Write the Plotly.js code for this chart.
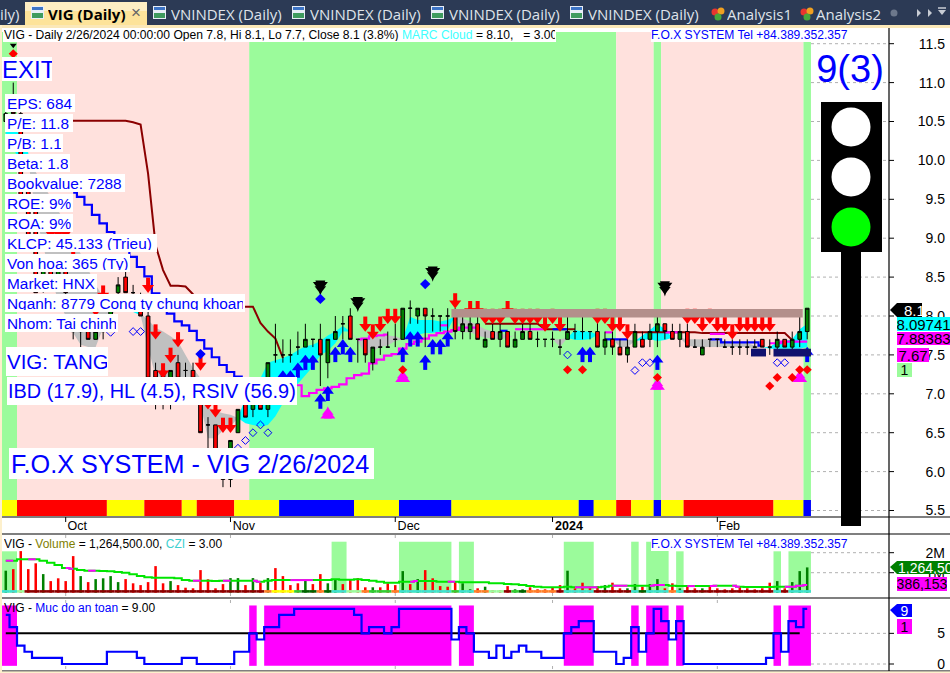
<!DOCTYPE html>
<html><head><meta charset="utf-8">
<script src="https://cdn.plot.ly/plotly-3.0.1.min.js"></script>
<style>html,body{margin:0;padding:0;background:#fff;overflow:hidden}#c{width:950px;height:673px}</style>
</head><body><div id="c"></div>
<script>
// ---------- data ----------
const monthBars=[8,30,52,73,95];
const monthLabels=["Oct","Nov","Dec","<b>2024</b>","Feb"];
const opens=[10.5,10.8,10.6,9.6,9.4,8.4,8.6,8.5,8.6,7.8,7.8,7.8,7.7,7.8,7.8,8.3,8.5,8.3,8.2,8.0,
 7.3,7.3,7.2,7.4,7.3,7.3,7.2,6.6,6.6,6.2,5.9,6.5,7.0,6.8,6.9,6.8,7.5,7.5,7.5,7.6,
 7.6,7.7,7.7,7.4,7.7,7.9,8.0,7.7,7.7,7.4,7.6,7.6,7.7,7.7,8.1,8.0,8.1,8.0,8.0,8.0,
 8.0,7.8,7.8,7.9,7.6,7.8,7.7,7.8,7.6,7.7,7.8,7.7,7.7,7.7,7.6,7.7,7.8,7.8,7.8,7.8,
 7.6,7.7,7.6,7.5,7.6,7.7,7.7,7.8,7.9,7.8,7.7,7.8,7.6,7.5,7.7,7.7,7.6,7.6,7.6,7.6,
 7.6,7.7,7.6,7.6,7.7,7.6,7.7,7.8];
const highs=[10.8,11.0,10.7,9.7,9.5,8.7,8.7,8.7,8.7,7.9,7.9,7.9,7.9,7.9,8.2,8.5,8.6,8.4,8.3,8.1,
 7.4,7.3,7.3,7.5,7.4,7.4,7.2,6.7,6.6,6.3,6.4,6.8,7.0,6.9,7.0,7.4,7.9,7.7,7.7,7.8,
 7.9,7.7,7.9,7.7,8.0,8.0,8.1,7.7,7.7,7.6,7.7,7.8,7.9,8.1,8.2,8.1,8.1,8.1,8.0,8.1,
 8.1,8.0,8.0,8.0,7.8,7.9,7.9,7.8,7.8,7.9,7.9,7.8,7.7,7.8,7.7,8.0,7.9,8.0,7.8,8.0,
 7.8,7.8,7.7,7.7,7.9,7.8,7.9,8.0,7.9,7.9,7.9,7.9,7.7,7.7,7.7,7.7,7.7,7.7,7.7,7.7,
 7.7,7.7,7.7,7.8,7.7,7.8,8.0,8.1];
const lows=[10.5,10.6,9.5,8.9,8.3,8.3,8.4,8.4,8.2,7.7,7.6,7.7,7.7,7.7,7.8,8.2,8.3,8.2,8.0,7.2,
 6.8,6.8,6.8,7.2,7.2,7.2,6.5,6.3,6.2,5.8,5.8,6.5,6.7,6.7,6.8,6.7,7.4,7.4,7.4,7.5,
 7.6,7.6,7.1,7.2,7.7,7.7,7.7,7.4,7.4,7.3,7.5,7.6,7.6,7.7,7.9,7.9,7.6,7.8,7.8,7.8,
 7.7,7.7,7.7,7.7,7.6,7.7,7.6,7.6,7.6,7.7,7.7,7.6,7.6,7.6,7.5,7.7,7.7,7.7,7.7,7.6,
 7.5,7.5,7.5,7.4,7.6,7.6,7.6,7.6,7.7,7.7,7.6,7.6,7.6,7.5,7.6,7.6,7.6,7.5,7.5,7.5,
 7.6,7.6,7.5,7.5,7.6,7.5,7.6,7.7];
const closes=[10.6,10.6,9.5,8.9,8.3,8.6,8.5,8.6,8.3,7.8,7.8,7.7,7.8,7.8,8.2,8.4,8.3,8.3,8.0,7.2,
 7.2,7.2,7.3,7.2,7.3,7.2,6.5,6.6,6.2,5.9,6.4,6.8,6.7,6.9,6.8,7.4,7.5,7.5,7.5,7.6,
 7.7,7.7,7.5,7.7,7.8,7.9,7.7,7.7,7.5,7.6,7.6,7.6,7.7,8.1,8.1,8.1,8.0,8.0,8.0,8.0,
 7.8,7.9,7.9,7.7,7.7,7.7,7.8,7.6,7.7,7.8,7.7,7.7,7.7,7.7,7.6,7.8,7.8,7.8,7.8,7.6,
 7.7,7.6,7.5,7.6,7.8,7.6,7.8,7.9,7.8,7.7,7.8,7.6,7.6,7.6,7.7,7.7,7.6,7.6,7.6,7.6,
 7.6,7.6,7.6,7.7,7.6,7.7,7.8,8.1];

const N=null;
const cloudTop=[10.45,10.45,10.30,10.10,9.85,9.68,9.53,9.36,9.17,8.98,8.80,8.60,8.40,8.25,8.15,8.10,8.25,8.10,8.03,7.95,
 7.85,7.80,7.74,7.67,7.50,7.33,7.20,6.83,6.78,6.75,6.73,6.69,6.95,7.10,7.20,7.40,7.43,7.46,7.50,7.56,
 7.61,7.63,7.68,7.75,7.80,7.87,7.80,7.70,7.69,7.72,7.72,7.75,7.74,7.70,7.99,7.95,7.95,7.95,7.93,7.95,
 8.00,7.97,7.93,7.88,7.83,7.80,7.79,7.74,7.75,N,N,N,N,7.70,7.70,7.72,7.82,7.80,7.80,7.76,
 N,7.70,7.70,7.70,7.68,7.75,7.82,7.90,7.83,7.72,7.72,7.70,7.70,7.70,7.70,7.68,7.68,7.66,7.66,7.65,
 7.62,7.60,7.60,7.67,7.68,7.70,7.83,7.90];
const cloudBot=[10.20,10.15,9.98,10.00,9.30,8.90,8.50,8.20,8.00,7.78,7.63,7.60,7.60,7.85,8.00,8.10,8.08,8.05,8.01,7.60,
 7.22,7.22,7.18,7.14,7.10,6.98,6.86,6.43,6.43,6.53,6.58,6.69,6.62,6.60,6.58,6.60,6.71,6.88,7.00,7.13,
 7.24,7.35,7.50,7.55,7.65,7.80,7.80,7.68,7.50,7.55,7.60,7.62,7.68,7.70,7.73,7.76,7.78,7.78,7.80,7.82,
 8.00,7.79,7.79,7.75,7.72,7.71,7.70,7.72,7.75,N,N,N,N,7.70,7.60,7.72,7.69,7.69,7.70,7.76,
 N,7.70,7.60,7.60,7.68,7.69,7.70,7.68,7.69,7.72,7.72,7.62,7.60,7.60,7.60,7.60,7.60,7.60,7.60,7.60,
 7.58,7.60,7.58,7.58,7.58,7.58,7.58,7.60];
const cloudCyanSpans=[[0,3],[15,18],[31,46],[53,60],[75,79],[84,89],[101,107]];
const cloudGraySpans=[[3,15],[18,31],[46,53],[60,68],[73,75],[81,84],[90,101]];

const blueStop=[N,N,N,N,N,N,N,N,N,9.585,9.53,9.43,9.30,9.19,9.08,8.98,8.88,8.76,8.63,8.51,
 8.29,8.12,8.03,7.93,7.88,7.81,7.69,7.58,7.47,7.37,7.28,7.22,7.15,N,N,N,N,N,N,N,
 N,N,N,N,N,N,N,N,N,N,N,N,N,N,N,N,N,N,N,N,
 N,N,N,N,N,N,7.81,7.81,N,N,N,N,N,7.83,7.83,7.83,N,N,N,N,
 7.70,7.70,7.70,7.70,N,N,N,N,N,N,N,N,N,N,7.70,7.70,7.66,7.66,7.66,7.66,
 7.66,7.62,N,N,N,N,N,N];
const darkRedLine=[N,N,10.51,10.51,10.51,10.51,10.51,10.51,10.51,10.51,10.51,10.51,10.51,10.51,10.51,10.51,10.51,10.49,10.46,9.83,
 8.91,8.59,8.39,8.39,8.38,8.28,8.20,8.15,8.12,8.12,8.12,8.12,8.12,8.12,7.91,7.80,7.71,7.46,N,N,
 N,N,N,N,N,N,N,N,N,N,N,N,N,N,N,N,N,N,N,N,
 N,N,N,N,7.90,7.90,7.90,7.90,7.90,7.90,7.90,7.90,7.83,7.83,7.83,7.83,7.83,N,N,N,
 N,N,N,7.79,7.79,7.79,7.79,7.79,7.79,7.79,7.79,7.79,7.79,7.78,7.78,7.78,7.78,7.78,7.78,7.78,
 7.78,7.78,7.78,7.78,7.78,7.69,N,N];
const magentaRise=[N,N,N,N,N,N,N,N,N,N,N,N,N,N,N,N,N,N,N,N,
 N,N,N,N,N,N,N,N,N,N,N,N,N,N,N,N,N,N,7.11,7.11,
 6.97,7.01,7.05,7.07,7.09,7.12,7.20,7.24,7.26,7.39,7.44,7.49,7.51,7.58,7.64,7.67,7.71,7.75,7.78,7.80,
 7.82,7.85,7.85,7.85,N,N,N,N,N,N,N,N,N,N,N,N,N,N,N,N,
 N,N,N,N,N,N,N,N,N,N,N,N,N,N,N,N,N,N,N,N,
 N,N,N,N,N,N,N,N];
const magentaUpper=[N,N,N,N,N,N,N,N,N,N,N,N,N,N,N,N,N,N,N,N,
 N,N,N,N,N,N,N,N,N,N,N,N,N,N,N,N,N,N,N,N,
 N,N,N,N,N,N,N,7.70,7.71,7.74,7.75,7.76,N,N,N,N,N,N,7.88,7.88,
 N,N,N,N,N,N,N,N,7.83,7.83,7.83,7.83,7.83,N,N,N,N,N,N,N,
 7.79,7.79,N,N,N,N,N,N,7.79,7.79,7.79,N,N,N,7.77,7.77,7.77,N,N,N,
 N,N,7.65,7.65,7.67,7.67,7.67,7.67];

const regimeEdges=[0,2,14,19,24,26,31,37,47,53,60,77,79,82,84,87,88,91,103,107,108];
const regimeColors=["#ffff00","#ff0000","#ffff00","#ff0000","#ffff00","#ff0000","#ffff00","#0000ff","#ffff00","#0000ff","#ffff00","#0000ff","#ffff00","#ff0000","#ffff00","#0000ff","#ffff00","#ff0000","#ffff00","#0000ff"];
const trendEdges=[0,2,33,82,87,88,107,108];
const trendColors=["#9bfb9b","#ffe1dd","#9bfb9b","#ffe1dd","#9bfb9b","#ffe1dd","#9bfb9b"];

const blackTriBars=[42,47,57,88], blackTriTips=[8.26,8.05,8.44,8.25];
const magTriBars=[43,53,87,106], magTriTips=[6.84,7.31,7.21,7.31];
const blueDotBars=[26,42,56], blueDotVals=[7.51,8.22,8.41];
const redDotBars=[1,53,75,77,87,102,103,105,106,107], redDotVals=[11.37,7.31,7.31,7.31,7.21,7.10,7.21,7.21,7.31,7.31];
const hollowBars=[14,17,18,31,32,33,34,35,75,84,85,86,103,104];
const hollowVals=[7.79,7.80,7.80,6.30,6.40,6.50,6.60,6.50,7.50,7.30,7.40,7.40,7.40,7.40];
const buyBars=[37,38,39,40,41,42,43,44,45,46,53,54,55,56,57,58,59,77,78,87,107];
const buyTips=[7.3,7.3,7.4,7.5,7.5,7.0,7.1,7.6,7.7,7.6,7.6,7.8,7.8,7.5,7.7,7.7,7.8,7.6,7.6,7.5,7.6];
const sellBars=[6,7,8,9,12,13,19,20,21,22,23,26,27,28,29,30,48,49,50,51,52,60,62,63,64,65,66,67,68,69,70,71,72,73,74,79,80,81,82,83,91,92,93,94,95,96,97,98,99,100,101,102];
const sellTips=[9.0,9.0,9.0,8.7,8.0,8.2,8.3,7.7,7.2,7.4,7.6,7.3,6.8,6.7,6.5,6.5,7.8,7.7,7.8,7.9,7.9,8.1,8.0,8.0,7.9,7.9,7.9,8.0,7.9,7.9,7.9,7.9,7.8,7.9,7.8,7.9,7.9,7.8,7.8,7.7,7.9,7.9,7.8,7.9,7.8,7.8,7.7,7.8,7.8,7.8,7.8,7.8];
const resistFrom=60,resistTo=106,resistHigh=8.09,resistLow=7.98;
const navyBars=[100,101,103,104,105,106,107], navyHigh=7.58, navyLow=7.48;

const volumes=[1.10,1.18,2.08,1.18,1.47,0.93,0.58,0.72,0.58,1.83,0.83,0.53,0.68,0.72,0.83,0.53,0.68,0.47,0.38,0.53,
 1.33,0.47,0.58,0.38,0.25,0.22,1.13,0.67,0.22,0.43,0.73,0.73,0.38,0.73,0.50,0.73,1.23,0.83,0.38,0.47,
 0.67,0.43,0.93,0.47,0.67,0.43,0.67,0.73,0.27,0.27,0.27,0.47,0.38,1.08,0.43,0.68,1.13,0.72,0.33,0.30,
 0.55,0.47,0.17,0.22,0.30,0.13,0.13,0.33,0.17,0.17,0.27,0.17,0.17,0.27,0.38,1.10,0.22,0.50,0.30,0.33,
 0.38,0.50,0.22,0.22,0.43,0.30,0.43,0.68,0.22,0.47,0.22,0.38,0.22,0.22,0.38,0.22,0.17,0.22,0.30,0.22,
 0.17,0.22,0.50,0.58,0.22,0.53,1.08,1.2645];
const volGreenBars=[0,5,10,12,13,14,15,22,30,31,33,35,40,43,44,49,53,55,61,62,64,68,69,75,80,83,84,86,87,90,93,103,105,106,107];
const volAvg=[1.60,1.60,1.67,1.67,1.67,1.60,1.50,1.38,1.23,1.20,1.13,1.10,1.10,1.08,1.07,1.03,1.00,0.92,0.83,0.77,
 0.75,0.75,0.75,0.72,0.63,0.60,0.60,0.60,0.58,0.60,0.60,0.60,0.60,0.60,0.55,0.60,0.63,0.63,0.63,0.63,
 0.63,0.63,0.63,0.63,0.67,0.65,0.65,0.67,0.63,0.60,0.55,0.50,0.50,0.55,0.55,0.58,0.58,0.58,0.55,0.55,
 0.55,0.52,0.52,0.52,0.52,0.47,0.47,0.43,0.42,0.38,0.33,0.30,0.27,0.27,0.27,0.30,0.27,0.27,0.27,0.27,
 0.30,0.35,0.35,0.35,0.35,0.35,0.35,0.38,0.38,0.35,0.33,0.33,0.33,0.33,0.33,0.35,0.35,0.35,0.30,0.28,
 0.28,0.28,0.28,0.30,0.30,0.30,0.35,0.386];
const volAvgMagentaSpans=[[0,1],[3,4],[8,9],[11,12],[25,26],[29,30],[33,34],[38,39],[40,41],[54,55],[59,60],[76,79],[81,83],[86,88],[91,92],[94,95],[97,98],[104,107]];
const volBandSpans=[[0,2],[44,46],[53,60],[61,63],[75,79],[84,85],[86,89],[90,91],[103,104],[105,108]];
const volBandTops=[2.07,2.55,2.55,2.55,2.55,2.55,2.55,2.07,2.07,2.07];
const czEdges=[0,2,3,35,36,39,40,42,43,44,46,48,49,52,53,60,61,63,65,67,68,69,70,74,75,79,84,85,86,89,90,91,103,104,105,108];
const czColors=["#40e0d0","#9bfb9b","#8b0000","#ff7f27","#ffff00","#32cd32","#006400","#ff7f27","#006400","#40e0d0","#9bfb9b","#ff7f27","#32cd32","#ff7f27","#40e0d0","#32cd32","#40e0d0","#ff7f27","#9bfb9b","#8b0000","#32cd32","#006400","#ff7f27","#8b0000","#40e0d0","#8b0000","#40e0d0","#006400","#40e0d0","#ff7f27","#40e0d0","#8b0000","#40e0d0","#8b0000","#40e0d0"];

const safety=[8,6,3,2,1,1,1,1,0,0,0,0,0,0,2,2,2,2,1,0,
 0,0,0,0,1,1,0,0,0,0,0,2,2,5,4,6,6,8,8,9,
 9,9,9,9,9,9,9,8,5,6,6,5,6,9,9,9,9,9,9,9,
 4,6,5,2,2,1,3,1,2,3,2,2,1,1,1,5,6,7,7,2,
 2,2,0,1,6,2,5,9,7,4,7,0,0,0,0,0,0,0,0,0,
 0,0,1,5,2,7,6,9];
const safeBandSpans=[[0,2],[33,34],[35,60],[61,63],[75,79],[84,85],[86,89],[90,91],[103,104],[105,108]];
const safeLevel=5;

const priceTicks=[5.5,6,6.5,7,7.5,8,8.5,9,9.5,10,10.5,11,11.5];
const priceLabels=["5.5","6.0","6.5","7.0","7.5","8.0","8.5","9.0","9.5","10.0","10.5","11.0","11.5"];
const volTicks=[1,2], volLabels=["1M","2M"];
const safeTicks=[0,5], safeLabels=["0","5"];

const statLines=["EPS: 684","P/E: 11.8","P/B: 1.1","Beta: 1.8","Bookvalue: 7288","ROE: 9%","ROA: 9%","KLCP: 45.133 (Trieu)","Von hoa: 365 (Ty)","Market: HNX","Nganh: 8779 Cong ty chung khoan","Nhom: Tai chinh"];
const statRight=[75,73,63,70,125,73,73,157,130,97,245,118];
const tabTitles=["VNINDEX (Daily)","VNINDEX (Daily)","VNINDEX (Daily)","VNINDEX (Daily)"];

// ---------- geometry ----------
const W=950,H=673,F="Liberation Sans, Arial, sans-serif",F2="Open Sans, Noto Sans, sans-serif";
const STEP=7.49,C0=5.77,PLOTR=948;
const barIdx=px=>(px-C0)/STEP;
const yp=p=>1-p/H, xp=p=>p/W;
const edge=i=>i-0.5;
const all=Array.from({length:108},(_,i)=>i);
const priceAt=p=>8+(316-p)/77.8;
const priceRange=[priceAt(533),priceAt(27)];
const volRange=[(592.7-598)/20,(592.7-535)/20];
const safeRange=[(664-673)/6.13,(664-599)/6.13];
const dom=(a,b)=>[yp(b),yp(a)];

// ---------- shapes ----------
const shapes=[];
const rectP=(x0,y0,x1,y1,c,layer)=>shapes.push({type:"rect",xref:"paper",yref:"paper",x0:xp(x0),x1:xp(x1),y0:yp(y0),y1:yp(y1),fillcolor:c,line:{width:0},layer:layer||"below"});
const lineP=(x0,y0,x1,y1,c,w,dash,layer)=>shapes.push({type:"line",xref:"paper",yref:"paper",x0:xp(x0),x1:xp(x1),y0:yp(y0),y1:yp(y1),line:{color:c,width:w,dash:dash||"solid"},layer:layer||"below"});
const circP=(cx,cy,r,c,layer)=>shapes.push({type:"circle",xref:"paper",yref:"paper",x0:xp(cx-r),x1:xp(cx+r),y0:yp(cy+r),y1:yp(cy-r),fillcolor:c,line:{width:0},layer:layer||"above"});
const polyP=(pts,c)=>shapes.push({type:"path",xref:"paper",yref:"paper",path:"M"+pts.map(p=>xp(p[0])+","+yp(p[1])).join("L")+"Z",fillcolor:c,line:{width:0},layer:"above"});

// trend background + regime strip
trendColors.forEach((c,k)=>shapes.push({type:"rect",xref:"x",yref:"paper",x0:edge(trendEdges[k]),x1:edge(trendEdges[k+1]),y0:yp(516),y1:yp(32),fillcolor:c,line:{width:0},layer:"below"}));
regimeColors.forEach((c,k)=>shapes.push({type:"rect",xref:"x",yref:"paper",x0:edge(regimeEdges[k]),x1:edge(regimeEdges[k+1]),y0:yp(516),y1:yp(500),fillcolor:c,line:{width:0},layer:"below"}));
// volume + safety panes
volBandSpans.forEach((s,k)=>shapes.push({type:"rect",xref:"x",yref:"y2",x0:edge(s[0]),x1:edge(s[1]),y0:0,y1:volBandTops[k],fillcolor:"#9bfb9b",line:{width:0},layer:"below"}));
safeBandSpans.forEach(s=>shapes.push({type:"rect",xref:"x",yref:"y3",x0:edge(s[0]),x1:edge(s[1]),y0:-0.3,y1:9.55,fillcolor:"#ff00ff",line:{width:0},layer:"below"}));
// grid stubs
const gridX0=barIdx(811),axisX=barIdx(889);
const hGrid=(vals,ref)=>vals.forEach(v=>{
  shapes.push({type:"line",xref:"x",yref:ref,x0:gridX0,x1:axisX,y0:v,y1:v,line:{color:"#b0b0b0",width:1,dash:"dot"},layer:"below"});
  shapes.push({type:"line",xref:"x",yref:ref,x0:axisX,x1:barIdx(894),y0:v,y1:v,line:{color:"#000",width:1},layer:"below"});
});
hGrid(priceTicks,"y");hGrid(volTicks,"y2");hGrid(safeTicks,"y3");
monthBars.forEach(b=>{
  shapes.push({type:"line",xref:"x",yref:"paper",x0:b,x1:b,y0:yp(517),y1:yp(522),line:{color:"#000",width:1},layer:"below"});
  [[535,541],[593,598],[600,605],[666,671]].forEach(r=>shapes.push({type:"line",xref:"x",yref:"paper",x0:b,x1:b,y0:yp(r[0]),y1:yp(r[1]),line:{color:"#b0b0b0",width:1,dash:"dot"},layer:"below"}));
});
// frame lines
[517,534,598,671].forEach(p=>lineP(2,p,950,p,"#000",1.2));
lineP(889,27,889,671,"#000",1.2,"solid","above");
// tab bar
rectP(0,0,950,25,"#2c3a55","above");
rectP(0,25,950,28,"#fbe8b8","above");
rectP(0,25,2,673,"#fdf0cc","above");
rectP(0,671.6,950,673,"#fdf0cc","above");
rectP(25,2,147,25,"#fde39a","above");
rectP(25,2,147,11,"#fdeec4","above");
[[31,6],[153,6],[292,6],[431,6],[570,6]].forEach(t=>{
  rectP(t[0],t[1],t[0]+13,t[1]+13,"#e8eef7","above");
  rectP(t[0]+1,t[1]+7,t[0]+12,t[1]+12,"#3f9b5f","above");
  rectP(t[0]+1,t[1]+1,t[0]+12,t[1]+4,"#3d74c6","above");
});
[709,798].forEach(x=>{circP(x+6,12,3.5,"#e8362f");circP(x+12,11,3.5,"#f0a020");circP(x+9,17,3.5,"#46a83c");});
circP(894,13,3.5,"#6d788c");
polyP([[917,9],[917,17],[921,13]],"#c8ccd4");
polyP([[928,9],[928,17],[932,13]],"#c8ccd4");
polyP([[938,10],[946,10],[942,15]],"#c8ccd4");
lineP(938,8,946,8,"#c8ccd4",1.5,"solid","above");
// traffic light
rectP(841,252,861,526,"#000","above");
rectP(821,102,882,252,"#000","above");
circP(851,127,19.5,"#ffffff");circP(851,177,19.5,"#ffffff");circP(851,227,19.5,"#00ff00");
// value tags
polyP([[890,310],[897,303],[922,303],[922,317],[897,317]],"#000");
polyP([[890,567],[897,561],[950,561],[950,574],[897,574]],"#008000");
polyP([[890,610],[897,604],[912,604],[912,617],[897,617]],"#0000ff");

// ---------- traces ----------
const traces=[];
function cloud(span,color){
  const xs=[],ys=[];
  for(let i=span[0];i<=span[1];i++){xs.push(i);ys.push(cloudTop[i]);}
  for(let i=span[1];i>=span[0];i--){xs.push(i);ys.push(cloudBot[i]);}
  traces.push({type:"scatter",mode:"none",x:xs,y:ys,fill:"toself",fillcolor:color,hoverinfo:"skip",showlegend:false,xaxis:"x",yaxis:"y"});
}
cloudCyanSpans.forEach(s=>cloud(s,"#00ffff"));
cloudGraySpans.forEach(s=>cloud(s,"#c0c0c0"));
const line=(y,color,width,shape,yaxis,x)=>traces.push({type:"scatter",mode:"lines",x:x||all,y:y,connectgaps:false,line:{color,width,shape:shape||"linear"},hoverinfo:"skip",showlegend:false,xaxis:"x",yaxis:yaxis||"y"});
line(darkRedLine,"#8b0000",2);
line(blueStop,"#0000ff",2.2,"hvh");
line(magentaRise,"#ff00ff",2.2,"hvh");
line(magentaUpper,"#ff00ff",2.2,"hvh");

traces.push({type:"candlestick",x:all,open:opens,high:highs,low:lows,close:closes,xaxis:"x",yaxis:"y4",whiskerwidth:0,width:0.8,showlegend:false,hoverinfo:"skip",
 increasing:{fillcolor:"#008000",line:{color:"#000",width:1}},decreasing:{fillcolor:"#ff0000",line:{color:"#000",width:1}}});
const mk=(x,y,symbol,size,color,extra)=>traces.push(Object.assign({type:"scatter",mode:"markers",x,y,marker:{symbol,size,color,line:{width:0}},hoverinfo:"skip",showlegend:false,xaxis:"x",yaxis:"y4"},extra||{}));
const PX=1/77.8;
// arrows: head + shaft via error bars
mk(buyBars,buyTips.map(t=>t-5*PX),"triangle-up",10.5,"#0000ff",{error_y:{type:"constant",symmetric:false,value:0,valueminus:10*PX,thickness:4,width:0,color:"#0000ff"}});
mk(sellBars,sellTips.map(t=>t+5*PX),"triangle-down",10.5,"#ff0000",{error_y:{type:"constant",symmetric:false,value:10*PX,valueminus:0,thickness:4,width:0,color:"#ff0000"}});
mk(hollowBars,hollowVals,"diamond-open",6,"#0000ff");
// big triangles (stacked markers give the tall silhouette)
mk(blackTriBars,blackTriTips,"arrow",16,"#000",{marker:{symbol:"arrow",size:16,color:"#000",angle:180,line:{width:0}}});
mk(blackTriBars,blackTriTips.map(t=>t+10.5*PX),"triangle-down",13,"#000");
mk(blackTriBars,blackTriTips.map(t=>t+7*PX),"triangle-down",10,"#000");
mk([1],[11.48],"triangle-down",6,"#000");
mk(magTriBars,magTriTips,"arrow",13,"#ff00ff",{marker:{symbol:"arrow",size:13,color:"#ff00ff",angle:0,line:{width:0}}});
mk(magTriBars,magTriTips.map(t=>t-9*PX),"triangle-up",13,"#ff00ff");
mk(magTriBars,magTriTips.map(t=>t-6*PX),"triangle-up",10,"#ff00ff");
mk(blueDotBars,blueDotVals,"diamond",8,"#0000ff");
mk(redDotBars,redDotVals,"diamond",7,"#ff0000");
// resistance band and navy blocks
traces.push({type:"scatter",mode:"none",x:[resistFrom-0.5,resistTo+0.4,resistTo+0.4,resistFrom-0.5],y:[resistHigh,resistHigh,resistLow,resistLow],fill:"toself",fillcolor:"#b38f8b",hoverinfo:"skip",showlegend:false,xaxis:"x",yaxis:"y4"});
function navyRun(a,b){traces.push({type:"scatter",mode:"none",x:[a-0.5,b+0.5,b+0.5,a-0.5],y:[navyHigh,navyHigh,navyLow,navyLow],fill:"toself",fillcolor:"#11116e",hoverinfo:"skip",showlegend:false,xaxis:"x",yaxis:"y4"});}
navyRun(navyBars[0],navyBars[1]);navyRun(navyBars[2],navyBars[6]);
// volume
traces.push({type:"bar",x:all,y:volumes,width:0.34,marker:{color:all.map(i=>volGreenBars.includes(i)?"#008000":"#ff0000"),line:{width:0}},hoverinfo:"skip",showlegend:false,xaxis:"x",yaxis:"y2"});
const czColorByBar=all.map(i=>{for(let k=0;k<czColors.length;k++)if(i>=czEdges[k]&&i<czEdges[k+1])return czColors[k];});
traces.push({type:"bar",x:all,y:all.map(()=>0.13),width:1,marker:{color:czColorByBar,line:{width:0}},hoverinfo:"skip",showlegend:false,xaxis:"x",yaxis:"y2"});
line(volAvg,"#00e600",2,"hvh","y2");
line(all.map(i=>volAvgMagentaSpans.some(s=>i>=s[0]&&i<=s[1])?volAvg[i]:null),"#ff00ff",2,"hvh","y2");
// safety
line(all.slice(0,107).map(()=>safeLevel),"#000",2,"linear","y3",all.slice(0,107));
line(safety,"#0000ff",2.2,"hvh","y3");

// ---------- annotations ----------
const anns=[];
function note(text,x0,y0,x1,y1,size,color,bg,opts){
  const pad=(opts&&opts.pad)||0;
  const o=Object.assign({},opts||{});delete o.pad;
  anns.push(Object.assign({xref:"paper",yref:"paper",x:xp(x0),y:yp(y0),xanchor:"left",yanchor:"top",width:x1-x0-2*pad,height:y1-y0-2*pad,text,showarrow:false,align:"left",valign:"middle",
    font:{family:F,size,color},bgcolor:bg||"rgba(0,0,0,0)",borderpad:pad,borderwidth:0},o));
}
// tabs
const tabFont={family:F2,size:15,color:"#dfe3ea"};
note("ily)",0,3,24,24,15,"#dfe3ea",null,{font:tabFont});
note("<b>VIG (Daily)</b>",48,3,128,24,15,"#000",null,{font:{family:F2,size:15,color:"#000"}});
note("×",131,2,146,22,17,"#666",null);
tabTitles.forEach((t,k)=>note(t,[171,310,449,588][k],3,[286,425,564,703][k],24,15,"#dfe3ea",null,{font:tabFont}));
note("Analysis1",727,3,795,24,15,"#dfe3ea",null,{font:tabFont});
note("Analysis2",816,3,884,24,15,"#dfe3ea",null,{font:tabFont});
// headers
note('VIG - Daily 2/26/2024 00:00:00 Open 7.8, Hi 8.1, Lo 7.7, Close 8.1 (3.8%) <span style="color:#40ffff">MARC Cloud</span> = 8.10,   = 3.00',3,28,556,42,12.1,"#000","#fff",{pad:1});
note("F.O.X SYSTEM Tel +84.389.352.357",651,28,848,42,12.1,"#0000ff","#fff");
note("F.O.X SYSTEM Tel +84.389.352.357",651,537,848,551,12.1,"#0000ff","#fff");
note('VIG - <span style="color:#808000">Volume</span> = 1,264,500.00, <span style="color:#40d0d0">CZI</span> = 3.00',4,537,300,550,12,"#000");
note('VIG - <span style="color:#0000ff">Muc do an toan</span> = 9.00',4,601,200,615,12,"#000");
// left panel
note("EXIT",2,57,52,81,24,"#0000ff","#fff");
statLines.forEach((t,k)=>note(t,5,94+20*k,statRight[k],112+20*k,15.4,"#0000ff","#fff",{pad:2}));
note("VIG: TANG",6,347,108,376,20.5,"#0000ff","#fff",{pad:1});
note("IBD (17.9), HL (4.5), RSIV (56.9)",7,377,297,405,19.9,"#0000ff","#fff",{pad:1});
note("F.O.X SYSTEM - VIG 2/26/2024",9,448,374,479,25.2,"#0000ff","#fff",{pad:2});
note("9(3)",816,47,884,90,38,"#0000ff",null,{align:"center"});
// right value tags
note("8.1",904,303,922,317,15,"#fff",null);
note("8.09741",897,317,950,331,15,"#000","#00ffff",{align:"center"});
note("7.88383",897,332,950,345,15,"#000","#ff00ff",{align:"center"});
note("7.67",897,348,929,362,15,"#000","#ff00ff",{align:"center"});
note("1",897,363,912,377,14,"#000","#9bfb9b",{align:"center"});
note("1,264,500",898,561,952,574,14,"#fff",null);
note("386,153",897,577,947,591,14,"#000","#ff00ff",{align:"center"});
note("9",897,604,912,617,14,"#fff",null,{align:"center"});
note("1",897,619,912,634,14,"#000","#ff00ff",{align:"center"});

// ---------- layout ----------
const yAxisBase={side:"right",anchor:"x",ticklabelposition:"inside",showgrid:false,zeroline:false,showline:false,ticks:"",tickfont:{family:F,size:14,color:"#000"},tickmode:"array",fixedrange:true};
const layout={
  width:W,height:H,margin:{l:0,r:0,t:0,b:0},paper_bgcolor:"#fff",plot_bgcolor:"#fff",showlegend:false,barmode:"overlay",dragmode:false,
  xaxis:{domain:[0,PLOTR/W],range:[barIdx(0),barIdx(PLOTR)],anchor:"free",position:yp(516),showgrid:false,zeroline:false,showline:false,ticks:"",rangeslider:{visible:false},
    tickmode:"array",tickvals:monthBars.map((b,k)=>b+[1.55,1.8,1.8,2.2,1.6][k]),ticktext:monthLabels,tickfont:{family:F,size:12.5,color:"#000"},fixedrange:true},
  yaxis:Object.assign({},yAxisBase,{domain:dom(27,533),range:priceRange,tickvals:priceTicks,ticktext:priceLabels}),
  yaxis2:Object.assign({},yAxisBase,{domain:dom(535,598),range:volRange,tickvals:volTicks,ticktext:volLabels}),
  yaxis3:Object.assign({},yAxisBase,{domain:dom(599,673),range:safeRange,tickvals:safeTicks,ticktext:safeLabels}),
  yaxis4:{overlaying:"y",anchor:"x",side:"right",range:priceRange,visible:false,fixedrange:true},
  shapes,annotations:anns
};
Plotly.newPlot("c",traces,layout,{staticPlot:true,displayModeBar:false});
</script></body></html>
